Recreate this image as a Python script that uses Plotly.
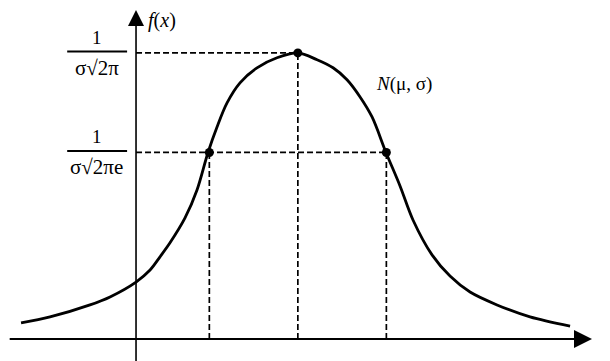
import plotly.graph_objects as go

# Curve (x in units of sigma from the f-axis, f relative to peak)
curve_x = [-1.286, -0.962, -0.515, -0.291, 0.0, 0.157, 0.268, 0.380, 0.548, 0.682, 0.805,
           0.906, 1.018, 1.163, 1.353, 1.577, 1.812, 2.025, 2.204, 2.360, 2.506,
           2.640, 2.796, 2.953, 3.098, 3.311, 3.512, 3.736, 4.038, 4.407, 4.855]
curve_f = [0.056, 0.077, 0.119, 0.147, 0.199, 0.241, 0.287, 0.336, 0.423, 0.521, 0.652,
           0.741, 0.825, 0.895, 0.948, 0.983, 1.000, 0.976, 0.948, 0.906, 0.846,
           0.776, 0.652, 0.535, 0.416, 0.294, 0.220, 0.164, 0.119, 0.077, 0.045]

mu = 1.81
sigma = 0.99
peak = 1.0
infl = 0.652

peak_label = ["1", "σ√2π"]
infl_label = ["1", "σ√2πe"]
curve_label = "<i>N</i>(μ, σ)"
axis_label = "<i>f</i>(<i>x</i>)"

FONT = "Liberation Serif"
fig = go.Figure()

dash = dict(color="black", width=1.7, dash="6px,3px")
# dashed guides
fig.add_trace(go.Scatter(x=[0, mu], y=[peak, peak], mode="lines", line=dash))
fig.add_trace(go.Scatter(x=[0, mu + sigma], y=[infl, infl], mode="lines", line=dash))
for xv, top in [(mu - sigma, infl), (mu, peak), (mu + sigma, infl)]:
    fig.add_trace(go.Scatter(x=[xv, xv], y=[0, top], mode="lines", line=dash))

# curve
fig.add_trace(go.Scatter(x=curve_x, y=curve_f, mode="lines",
                         line=dict(color="black", width=2.8, shape="spline", smoothing=0.9)))
# key points
fig.add_trace(go.Scatter(x=[mu - sigma, mu, mu + sigma], y=[infl, peak, infl],
                         mode="markers", marker=dict(color="black", size=9)))

# axes with arrows
fig.add_annotation(x=5.10, y=0, ax=-1.43, ay=0, axref="x", ayref="y", xref="x", yref="y",
                   text="", showarrow=True, arrowhead=2, arrowwidth=2, arrowsize=1.8,
                   arrowcolor="black")
fig.add_annotation(x=0, y=1.15, ax=0, ay=-0.10, axref="x", ayref="y", xref="x", yref="y",
                   text="", showarrow=True, arrowhead=2, arrowwidth=1.6, arrowsize=2.0,
                   arrowcolor="black")

fig.add_annotation(x=0.12, y=1.0, xref="x", yref="paper", text=axis_label, showarrow=False,
                   xanchor="left", yanchor="top", borderpad=0,
                   font=dict(family=FONT, size=20, color="black"))
fig.add_annotation(x=2.66, y=0.893, xref="x", yref="y", text=curve_label, showarrow=False,
                   xanchor="left", yanchor="middle", font=dict(family=FONT, size=19, color="black"))

# fraction tick labels
for yv, lab in [(peak, peak_label), (infl, infl_label)]:
    fig.add_shape(type="line", x0=-0.77, x1=-0.10, y0=yv + 0.005, y1=yv + 0.005,
                  xref="x", yref="y", line=dict(color="black", width=2))
    fig.add_annotation(x=-0.44, y=yv, xref="x", yref="y", text=lab[0], showarrow=False,
                       yanchor="bottom", yshift=3, font=dict(family=FONT, size=19, color="black"))
    fig.add_annotation(x=-0.44, y=yv, xref="x", yref="y", text=lab[1], showarrow=False,
                       yanchor="top", yshift=-1, font=dict(family=FONT, size=21, color="black"))

fig.update_layout(width=610, height=361, margin=dict(l=0, r=0, t=0, b=0),
                  paper_bgcolor="white", plot_bgcolor="white", showlegend=False,
                  xaxis=dict(range=[-1.432, 5.391], visible=False, fixedrange=True),
                  yaxis=dict(range=[-0.105, 1.157], visible=False, fixedrange=True))
fig.write_html("out.html")
